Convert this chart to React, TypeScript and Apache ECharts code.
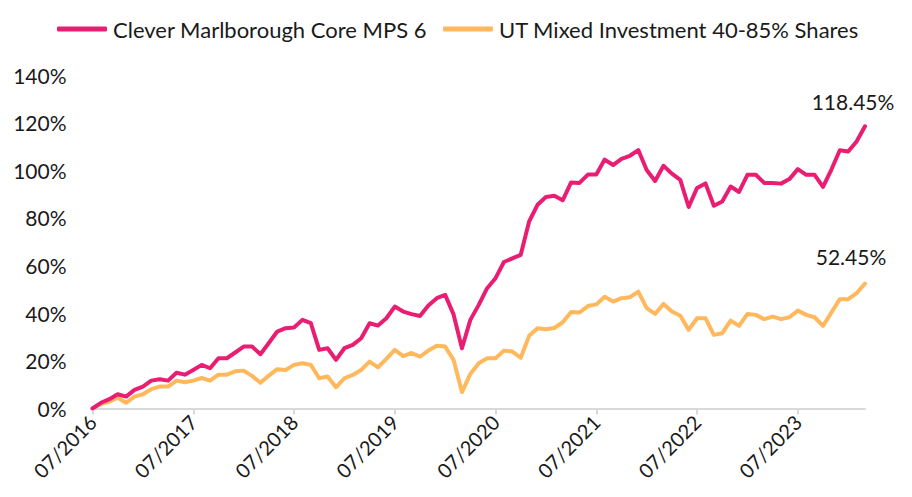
import React, { useEffect, useRef } from "react";
import * as echarts from "echarts";

const seriesNames = ["Clever Marlborough Core MPS 6", "UT Mixed Investment 40-85% Shares"];

const clever = [
  0, 2.4, 3.9, 6.0, 5.0, 7.8, 9.2, 11.7, 12.3, 11.7, 15.0, 14.2,
  16.2, 18.3, 16.9, 21.1, 21.1, 23.5, 26.0, 26.0, 22.8, 27.5, 32.3, 33.7,
  34.0, 37.2, 35.8, 24.6, 25.3, 20.4, 25.3, 26.7, 29.5, 35.8, 34.8, 37.9,
  42.8, 40.7, 39.6, 38.8, 43.2, 46.3, 47.7, 39.5, 25.3, 37.2, 43.5, 50.5,
  54.7, 61.5, 63.0, 64.5, 78.5, 85.5, 88.8, 89.3, 87.4, 94.9, 94.7, 98.2,
  98.2, 104.5, 102.2, 104.8, 106.1, 108.5, 100.1, 95.5, 101.9, 98.6, 96.0, 84.6,
  92.6, 94.5, 85.1, 86.9, 93.2, 90.9, 98.1, 98.1, 94.7, 94.7, 94.4, 96.3,
  100.5, 98.1, 98.1, 93.0, 100.3, 108.4, 107.9, 112.1, 118.45,
];

const sector = [
  0, 1.9, 2.9, 4.5, 2.4, 5.0, 6.0, 8.1, 9.2, 9.2, 11.7, 11.0,
  11.7, 12.8, 11.7, 14.2, 14.2, 15.6, 15.9, 13.7, 10.8, 13.8, 16.5, 16.2,
  18.3, 19.0, 18.3, 12.7, 13.4, 8.9, 12.7, 14.1, 16.2, 19.7, 17.3, 20.8,
  24.6, 22.0, 23.3, 21.8, 24.3, 26.3, 26.0, 20.4, 6.9, 14.5, 19.0, 21.1,
  21.1, 24.3, 23.9, 21.3, 30.5, 33.7, 33.3, 33.8, 36.2, 40.5, 40.3, 43.0,
  43.7, 46.9, 44.9, 46.3, 46.7, 49.1, 42.1, 39.7, 43.9, 40.7, 38.9, 33.0,
  37.9, 37.9, 30.9, 31.6, 36.9, 34.7, 39.7, 39.3, 37.5, 38.6, 37.5, 38.3,
  41.1, 39.3, 38.3, 34.7, 40.3, 45.9, 45.9, 48.4, 52.45,
];

// monthly categories starting 07/2016
const START_YEAR = 2016;
const START_MONTH = 7;
const months = clever.map((_, i) => {
  const k = START_MONTH - 1 + i;
  const m = (k % 12) + 1;
  const y = START_YEAR + Math.floor(k / 12);
  return `${String(m).padStart(2, "0")}/${y}`;
});

const COLORS = ["#e91e73", "#ffb85c"];
const TEXT = "#1a1a1a";
const FONT = "Lato, 'Noto Sans', sans-serif";

function withEndLabel(values: number[], offset: number[]) {
  return values.map((v, i) =>
    i === values.length - 1
      ? {
          value: v,
          label: {
            show: true,
            position: "top",
            formatter: `${v}%`,
            offset,
            fontSize: 21,
            fontFamily: FONT,
            color: TEXT,
          },
        }
      : v
  );
}

export default function App() {
  const ref = useRef<HTMLDivElement>(null);
  useEffect(() => {
    if (!ref.current) return;
    const chart = echarts.init(ref.current, null, { renderer: "svg" });
    const every12 = (i: number) => i % 12 === 0;

    chart.setOption({
      animation: false,
      textStyle: { fontFamily: FONT },
      legend: {
        data: seriesNames,
        left: 52,
        top: 13,
        icon: "roundRect",
        itemWidth: 50,
        itemHeight: 5,
        itemGap: 16,
        selectedMode: false,
        textStyle: { fontFamily: FONT, fontSize: 22, color: TEXT, padding: [0, 0, 0, 1] },
      },
      grid: { left: 92.5, right: 47, top: 75, bottom: 88.5, containLabel: false },
      xAxis: {
        type: "category",
        boundaryGap: false,
        data: months,
        axisLine: { lineStyle: { color: "#d9d9d9", width: 2 } },
        axisTick: {
          alignWithLabel: true,
          interval: every12,
          length: 6,
          lineStyle: { color: "#d9d9d9", width: 2 },
        },
        axisLabel: {
          interval: every12,
          rotate: 45,
          fontSize: 20,
          color: TEXT,
          margin: 10,
          fontFamily: FONT,
        },
        splitLine: { show: false },
      },
      yAxis: {
        type: "value",
        min: 0,
        max: 140,
        interval: 20,
        splitLine: { show: false },
        axisLine: { show: false },
        axisTick: { show: false },
        axisLabel: { formatter: "{value}%", fontSize: 21, color: TEXT, margin: 26, fontFamily: FONT },
      },
      series: [
        {
          name: seriesNames[0],
          type: "line",
          data: withEndLabel(clever, [-12, -9]),
          symbol: "circle",
          symbolSize: 0,
          showSymbol: true,
          color: COLORS[0],
          lineStyle: { width: 4, color: COLORS[0], cap: "round", join: "round" },
          emphasis: { disabled: true },
          z: 3,
        },
        {
          name: seriesNames[1],
          type: "line",
          data: withEndLabel(sector, [-14, -12]),
          symbol: "circle",
          symbolSize: 0,
          showSymbol: true,
          color: COLORS[1],
          lineStyle: { width: 4, color: COLORS[1], cap: "round", join: "round" },
          emphasis: { disabled: true },
          z: 2,
        },
      ],
    });
    return () => chart.dispose();
  }, []);
  return (
    <div
      ref={ref}
      style={{ position: "absolute", left: 0, top: 0, width: 912, height: 497 }}
    />
  );
}
